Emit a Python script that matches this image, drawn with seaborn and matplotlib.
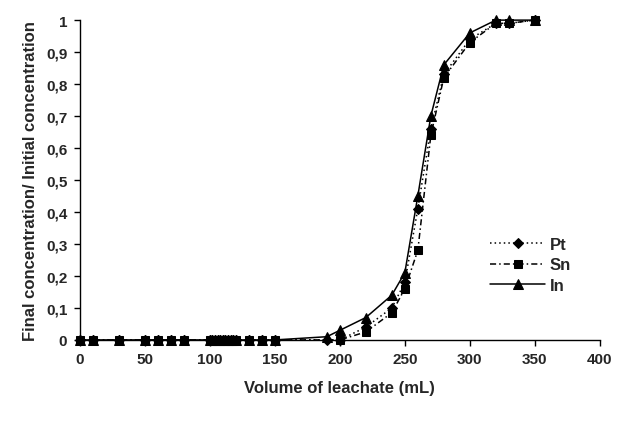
import seaborn as sns
import matplotlib.pyplot as plt
import pandas as pd

# volumes where all three metals stay at zero
vol_zero = [0, 10, 30, 50, 60, 70, 80, 100, 102, 104, 106, 108, 110, 112,
            114, 116, 118, 120, 130, 140, 150]

# breakthrough part
vol_pt = [190, 200, 220, 240, 250, 260, 270, 280, 300, 320, 330, 350]
pt = [0, 0, 0.04, 0.10, 0.18, 0.41, 0.66, 0.83, 0.94, 0.99, 0.99, 1.0]

vol_sn = [200, 220, 240, 250, 260, 270, 280, 300, 320, 330, 350]
sn = [0, 0.025, 0.085, 0.16, 0.28, 0.64, 0.82, 0.93, 0.99, 0.99, 1.0]

vol_in = [190, 200, 220, 240, 250, 260, 270, 280, 300, 320, 330, 350]
indium = [0.01, 0.03, 0.07, 0.14, 0.21, 0.45, 0.70, 0.86, 0.96, 1.0, 1.0, 1.0]

y_ticks = [0, 0.1, 0.2, 0.3, 0.4, 0.5, 0.6, 0.7, 0.8, 0.9, 1]
y_labels = ["0", "0,1", "0,2", "0,3", "0,4", "0,5", "0,6", "0,7", "0,8", "0,9", "1"]
x_ticks = [0, 50, 100, 150, 200, 250, 300, 350, 400]

sns.set_style("ticks")
plt.rcParams['font.family'] = ['Liberation Sans', 'DejaVu Sans']
plt.rcParams['font.weight'] = 'bold'

fig, ax = plt.subplots(figsize=(6.19, 4.31), dpi=100)
fig.subplots_adjust(left=0.129, right=0.969, bottom=0.209, top=0.951)

series = [
    ("Pt", vol_pt, pt, "D", (0, (1, 2)), 5.5),
    ("Sn", vol_sn, sn, "s", (0, (4, 2, 1, 2)), 5.5),
    ("In", vol_in, indium, "^", "-", 6.5),
]
for name, vx, vy, mk, ls, ms in series:
    df = pd.DataFrame({"x": vol_zero + vx, "y": [0] * len(vol_zero) + vy})
    sns.lineplot(data=df, x="x", y="y", ax=ax, color="black", marker=mk,
                 markersize=ms, markeredgecolor="black", linestyle=ls,
                 linewidth=1.1, label=name, estimator=None, sort=True,
                 clip_on=False, zorder=3)

ax.set_xlim(0, 400)
ax.set_ylim(0, 1)
ax.set_xticks(x_ticks)
ax.set_yticks(y_ticks)
ax.set_yticklabels(y_labels)
ax.tick_params(labelsize=11, length=4, width=1, color="black", pad=5)
for lab in ax.get_xticklabels() + ax.get_yticklabels():
    lab.set_fontweight("bold")
ax.set_xlabel("Volume of leachate (mL)", fontsize=12, fontweight="bold", labelpad=10)
ax.set_ylabel("Final concentration/ Initial concentration", fontsize=12,
              fontweight="bold", labelpad=6)
sns.despine(ax=ax)
for sp in ["left", "bottom"]:
    ax.spines[sp].set_linewidth(1)
    ax.spines[sp].set_color("black")

leg = ax.legend(loc="upper left", bbox_to_anchor=(0.76, 0.37), frameon=False,
                fontsize=12, handlelength=3.3, labelspacing=0.35,
                handletextpad=0.3)
for t in leg.get_texts():
    t.set_fontweight("bold")

fig.savefig("out.png", dpi=100)
